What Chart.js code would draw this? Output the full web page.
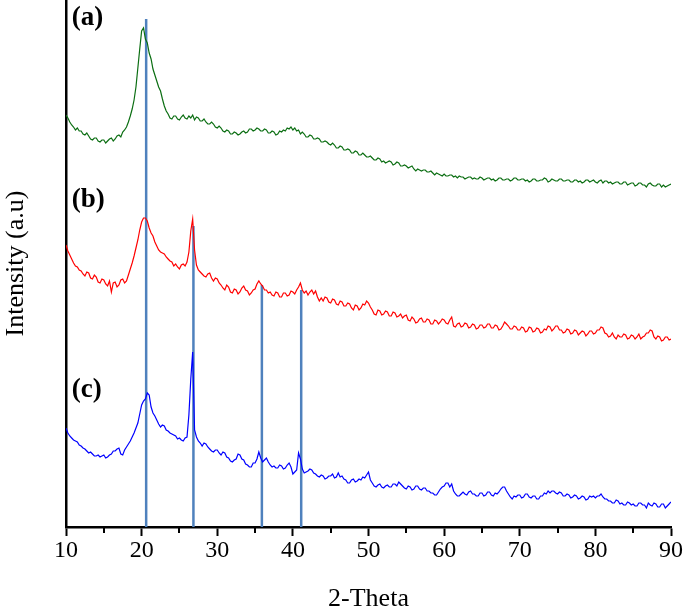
<!DOCTYPE html>
<html>
<head>
<meta charset="utf-8">
<script src="https://cdn.jsdelivr.net/npm/chart.js@4"></script>
<style>
  html, body { margin: 0; padding: 0; background: #fff; }
  #wrap { width: 685px; height: 613px; }
</style>
</head>
<body>
<div id="wrap"><canvas id="xrdChart" width="685" height="613"></canvas></div>
<script>
// ─── Data (2-Theta grid 10..90, step 0.25) ───
const twoTheta = Array.from({ length: 321 }, (_, i) => 10 + i * 0.25);

const seriesA = [
    412, 409, 405, 402, 400, 397, 399, 396, 396, 393, 392, 394, 391, 388, 387, 389, 389, 386, 385, 387,
    387, 384, 386, 388, 389, 386, 388, 391, 392, 390, 395, 397, 400, 405, 411, 418, 427, 440, 459, 478,
    496, 499, 488, 484, 474, 468, 458, 452, 446, 440, 436, 428, 421, 416, 413, 409, 408, 411, 411, 408,
    407, 410, 412, 409, 408, 411, 409, 412, 407, 410, 409, 406, 406, 408, 405, 403, 403, 405, 403, 400,
    399, 401, 399, 396, 395, 397, 396, 393, 393, 395, 394, 392, 393, 395, 396, 394, 395, 398, 398, 396,
    397, 399, 398, 396, 396, 398, 397, 394, 394, 396, 395, 392, 393, 396, 395, 397, 396, 399, 398, 400,
    397, 399, 396, 397, 393, 395, 393, 390, 390, 392, 391, 388, 388, 389, 388, 385, 385, 386, 385, 383,
    382, 384, 382, 379, 379, 381, 380, 377, 377, 378, 377, 374, 374, 376, 375, 372, 372, 374, 372, 370,
    370, 371, 369, 367, 367, 369, 368, 365, 366, 364, 365, 366, 365, 362, 363, 365, 364, 361, 361, 362,
    361, 359, 360, 361, 358, 356, 358, 357, 356, 357, 357, 355, 355, 356, 354, 352, 354, 353, 352, 351,
    353, 351, 351, 352, 352, 350, 351, 349, 351, 350, 350, 348, 349, 350, 350, 348, 349, 348, 348, 350,
    349, 347, 348, 349, 349, 347, 348, 346, 347, 349, 349, 347, 347, 348, 348, 346, 347, 349, 349, 347,
    347, 348, 348, 346, 347, 345, 346, 348, 348, 346, 346, 347, 347, 349, 348, 345, 346, 348, 347, 346,
    346, 348, 348, 346, 346, 347, 347, 345, 345, 347, 347, 345, 346, 344, 345, 347, 347, 345, 346, 347,
    345, 344, 346, 347, 344, 346, 346, 344, 345, 343, 344, 345, 345, 343, 343, 345, 345, 342, 343, 344,
    344, 341, 342, 344, 344, 342, 342, 340, 343, 344, 342, 341, 341, 343, 343, 340, 342, 340, 341, 342,
    343
];

const seriesB = [
    282, 276, 272, 268, 264, 261, 260, 257, 256, 253, 251, 255, 254, 249, 248, 252, 250, 245, 244, 248,
    247, 243, 241, 246, 235, 244, 245, 240, 242, 247, 248, 244, 246, 252, 258, 264, 271, 279, 287, 297,
    305, 309, 309, 306, 299, 294, 291, 285, 281, 277, 275, 274, 273, 270, 268, 266, 265, 261, 263, 260,
    258, 262, 263, 261, 265, 275, 296, 308, 277, 262, 257, 255, 253, 251, 250, 253, 254, 249, 246, 249,
    248, 244, 242, 239, 237, 242, 240, 235, 234, 238, 237, 233, 235, 239, 241, 237, 236, 232, 234, 237,
    238, 243, 246, 243, 241, 237, 237, 234, 235, 232, 231, 235, 234, 230, 230, 234, 234, 231, 232, 236,
    235, 233, 237, 240, 244, 237, 234, 236, 232, 235, 237, 233, 236, 230, 226, 229, 226, 230, 229, 225,
    224, 228, 227, 223, 222, 226, 225, 221, 221, 224, 223, 219, 217, 222, 221, 217, 219, 223, 222, 226,
    224, 220, 217, 213, 212, 217, 216, 212, 213, 216, 215, 211, 211, 215, 214, 210, 211, 213, 209, 211,
    212, 207, 206, 210, 208, 204, 205, 208, 209, 205, 205, 208, 207, 203, 203, 207, 206, 203, 205, 208,
    207, 204, 203, 207, 210, 201, 200, 203, 204, 200, 201, 204, 203, 199, 200, 203, 202, 198, 199, 202,
    202, 199, 200, 203, 203, 199, 199, 202, 201, 197, 198, 201, 205, 203, 201, 198, 198, 201, 200, 197,
    197, 200, 199, 195, 196, 200, 199, 195, 196, 199, 198, 194, 195, 198, 197, 201, 200, 196, 198, 201,
    201, 197, 197, 194, 195, 198, 197, 193, 194, 197, 196, 192, 194, 196, 195, 191, 193, 196, 196, 193,
    194, 197, 197, 200, 199, 194, 193, 190, 191, 194, 190, 188, 192, 190, 190, 193, 192, 188, 189, 192,
    191, 188, 190, 193, 188, 190, 191, 194, 194, 197, 196, 190, 188, 191, 190, 186, 187, 190, 190, 187,
    188
];

const seriesC = [
    99, 94, 91, 89, 87, 86, 85, 82, 81, 79, 78, 76, 74, 75, 73, 71, 71, 72, 70, 71,
    72, 69, 70, 72, 73, 76, 76, 78, 79, 73, 72, 77, 80, 83, 86, 90, 94, 99, 104, 113,
    122, 126, 128, 134, 132, 120, 114, 111, 107, 103, 100, 102, 101, 97, 96, 94, 93, 92, 91, 88,
    89, 87, 86, 89, 90, 112, 148, 175, 97, 90, 86, 84, 81, 84, 83, 80, 78, 76, 75, 77,
    77, 74, 72, 75, 74, 70, 69, 66, 65, 67, 68, 73, 72, 68, 67, 63, 62, 60, 60, 64,
    64, 68, 75, 69, 65, 67, 69, 65, 62, 60, 61, 59, 59, 62, 61, 58, 59, 62, 64, 60,
    53, 55, 57, 74, 68, 58, 54, 55, 56, 58, 57, 54, 53, 51, 50, 52, 51, 48, 49, 51,
    51, 53, 49, 50, 54, 50, 51, 48, 47, 44, 44, 47, 48, 45, 46, 48, 47, 50, 49, 52,
    55, 47, 44, 41, 40, 42, 43, 40, 39, 41, 42, 40, 40, 43, 43, 41, 45, 43, 41, 39,
    38, 41, 40, 37, 38, 41, 41, 38, 37, 39, 39, 36, 36, 34, 34, 32, 32, 35, 38, 40,
    41, 44, 44, 40, 43, 36, 33, 31, 31, 33, 35, 33, 32, 35, 36, 33, 33, 31, 31, 34,
    34, 31, 32, 35, 35, 32, 31, 34, 33, 35, 38, 40, 40, 36, 33, 30, 28, 31, 30, 32,
    32, 29, 30, 33, 33, 30, 29, 31, 31, 28, 28, 31, 31, 34, 33, 36, 34, 36, 36, 34,
    33, 35, 34, 31, 31, 33, 32, 29, 30, 32, 31, 28, 29, 31, 30, 27, 28, 31, 30, 31,
    29, 31, 31, 33, 30, 28, 28, 26, 26, 24, 24, 27, 26, 23, 24, 22, 22, 25, 24, 22,
    23, 21, 21, 24, 24, 22, 22, 19, 24, 22, 21, 24, 23, 20, 20, 23, 23, 19, 21, 23,
    25
];

// reference peak markers
const peakPositions = [20.6, 26.85, 35.9, 41.1];
const peakTops = [508, 301, 242, 237];

const panelLabels = ['(a)', '(b)', '(c)'];
const xTicks = [10, 20, 30, 40, 50, 60, 70, 80, 90];
const xMinorTicks = [15, 25, 35, 45, 55, 65, 75, 85];

const SERIF = "'Liberation Serif', 'Times New Roman', serif";

const toPoints = (values) => values.map((v, i) => ({ x: twoTheta[i], y: v }));

const peakLines = peakPositions.map((p, i) => ({
    data: [{ x: p, y: 0 }, { x: p, y: peakTops[i] }],
    borderColor: '#4f81bd',
    borderWidth: 2.5,
    pointRadius: 0
}));

// minor ticks + (a)/(b)/(c) labels
const decor = {
    id: 'decor',
    afterDraw(chart, args, opts) {
        const { ctx, scales: { x, y } } = chart;
        ctx.save();
        ctx.strokeStyle = '#000';
        ctx.lineWidth = 2;
        xMinorTicks.forEach(v => {
            const px = Math.round(x.getPixelForValue(v));
            ctx.beginPath();
            ctx.moveTo(px, y.bottom);
            ctx.lineTo(px, y.bottom + 6);
            ctx.stroke();
        });
        ctx.fillStyle = '#000';
        ctx.font = 'bold 27px ' + SERIF;
        ctx.textBaseline = 'middle';
        panelLabels.forEach((t, i) => {
            ctx.fillText(t, x.getPixelForValue(opts.labelX), y.getPixelForValue(opts.labelY[i]));
        });
        ctx.restore();
    }
};

new Chart(document.getElementById('xrdChart'), {
    type: 'line',
    data: {
        datasets: [
            { data: toPoints(seriesA), borderColor: '#0b6e12', borderWidth: 1.2, pointRadius: 0 },
            { data: toPoints(seriesB), borderColor: '#ff0000', borderWidth: 1.2, pointRadius: 0 },
            { data: toPoints(seriesC), borderColor: '#0000ff', borderWidth: 1.2, pointRadius: 0 },
            ...peakLines
        ]
    },
    options: {
        responsive: false,
        animation: false,
        layout: { padding: { left: 0, right: 14, top: 0, bottom: 0 } },
        plugins: {
            legend: { display: false },
            tooltip: { enabled: false },
            decor: { labelX: 10.75, labelY: [509, 327, 137] }
        },
        scales: {
            x: {
                type: 'linear',
                min: 10,
                max: 90,
                afterBuildTicks: (s) => { s.ticks = xTicks.map(v => ({ value: v })); },
                afterFit: (s) => { s.height = 86; },
                grid: {
                    display: true,
                    drawOnChartArea: false,
                    drawTicks: true,
                    tickLength: 9,
                    tickWidth: 2,
                    tickColor: '#000'
                },
                border: { display: true, color: '#000', width: 2.5 },
                ticks: {
                    color: '#000',
                    padding: 0,
                    maxRotation: 0,
                    font: { family: SERIF, size: 24 }
                },
                title: {
                    display: true,
                    text: '2-Theta',
                    color: '#000',
                    padding: { top: 0, bottom: 0 },
                    font: { family: SERIF, size: 26, lineHeight: 1.05 }
                }
            },
            y: {
                min: 0,
                max: 527,
                afterFit: (s) => { s.width = 66; },
                grid: { display: false },
                border: { display: true, color: '#000', width: 2.5 },
                ticks: { display: false },
                title: {
                    display: true,
                    text: 'Intensity (a.u)',
                    color: '#000',
                    padding: { top: 1, bottom: 0 },
                    font: { family: SERIF, size: 26 }
                }
            }
        }
    },
    plugins: [decor]
});
</script>
</body>
</html>
